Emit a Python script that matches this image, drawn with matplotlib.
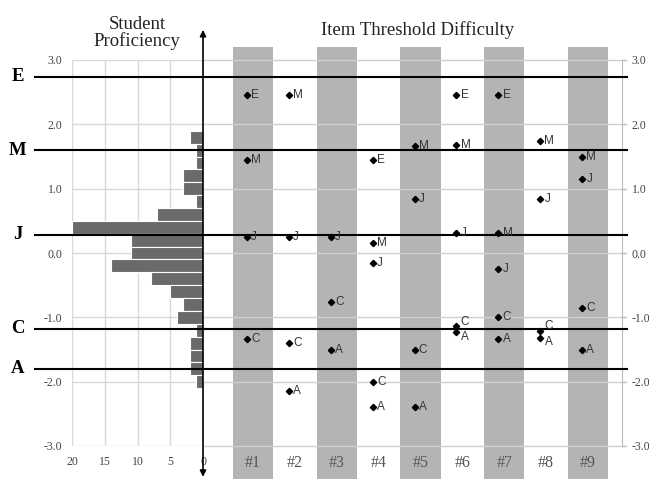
import matplotlib.pyplot as plt
import matplotlib.transforms as mtransforms
import numpy as np

# student proficiency histogram (bin centres, counts)
bin_centers = [1.8, 1.6, 1.4, 1.2, 1.0, 0.8, 0.6, 0.4, 0.2, 0.0,
               -0.2, -0.4, -0.6, -0.8, -1.0, -1.2, -1.4, -1.6, -1.8, -2.0]
counts = [2, 1, 1, 3, 3, 1, 7, 20, 11, 11, 14, 8, 5, 3, 4, 1, 2, 2, 2, 1]

# cut scores
cut_labels = ['E', 'M', 'J', 'C', 'A']
cut_values = [2.74, 1.60, 0.28, -1.18, -1.80]

# item threshold difficulties, items #1..#9 (nan = no threshold)
items = ['#1', '#2', '#3', '#4', '#5', '#6', '#7', '#8', '#9']
nan = np.nan
thr_E = [2.45, nan, nan, 1.45, nan, 2.45, 2.45, nan, nan]
thr_M = [1.45, 2.45, nan, 0.16, 1.66, 1.68, 0.31, 1.74, 1.49]
thr_J = [0.25, 0.25, 0.25, -0.16, 0.84, 0.31, -0.25, 0.84, 1.15]
thr_C = [-1.34, -1.40, -0.76, -2.01, -1.51, -1.14, -1.00, -1.21, -0.85]
thr_A = [nan, -2.15, -1.51, -2.40, -2.40, -1.23, -1.34, -1.32, -1.51]
thresholds = {'E': thr_E, 'M': thr_M, 'J': thr_J, 'C': thr_C, 'A': thr_A}

serif = 'Liberation Serif'
sans = 'Liberation Sans'

fig = plt.figure(figsize=(6.49, 4.79), dpi=100)
W, H = 649, 479
bot = 1 - 446 / H
hgt = 386 / H
ax_h = fig.add_axes([72 / W, bot, 131 / W, hgt])
ax_r = fig.add_axes([203 / W, bot, 419 / W, hgt])

# ---- histogram panel ----
ax_h.barh(bin_centers, counts, height=0.2, color='#6a6a6a',
          edgecolor='white', linewidth=0.8, zorder=2)
ax_h.set_xlim(20, 0)
ax_h.set_ylim(-3, 3)
ax_h.set_xticks([20, 15, 10, 5, 0])
ax_h.set_yticks([-3, -2, -1, 0, 1, 2, 3])
ax_h.set_yticklabels(['-3.0', '-2.0', '-1.0', '0.0', '1.0', '2.0', '3.0'])
ax_h.grid(True, color='#d9d9d9', linewidth=1, zorder=0)
ax_h.set_axisbelow(True)
for s in ax_h.spines.values():
    s.set_visible(False)
ax_h.tick_params(length=0, labelsize=8.5, labelcolor='#444444', pad=7)
for lab in ax_h.get_xticklabels() + ax_h.get_yticklabels():
    lab.set_family(serif)

# ---- item panel ----
xpos = np.arange(1, len(items) + 1)
ax_r.set_xlim(-0.19, 9.81)
ax_r.set_ylim(-3, 3)
lab_tr = mtransforms.offset_copy(ax_r.transData, fig=fig, y=-9, units='dots')
for i, x in enumerate(xpos):
    if i % 2 == 0:
        ax_r.axvspan(x - 0.48, x + 0.48, ymin=-0.085, ymax=1.034,
                     color='#b4b4b4', clip_on=False, zorder=0, lw=0)
    ax_r.text(x, -3.0, items[i], transform=lab_tr, ha='center', va='top',
              fontsize=11.5, family=serif, color='#555555')

for yv in range(-3, 4):
    ax_r.axhline(yv, xmin=0, xmax=1.01, color='#d0d0d0', lw=1, zorder=1,
                 clip_on=False)

ax_r.set_xticks([])
ax_r.yaxis.tick_right()
ax_r.set_yticks([-3, -2, -1, 0, 1, 2, 3])
ax_r.set_yticklabels(['-3.0', '-2.0', '-1.0', '0.0', '1.0', '2.0', '3.0'])
ax_r.tick_params(axis='y', length=3, color='#bbbbbb', labelsize=8.5,
                 labelcolor='#444444', pad=4)
for lab in ax_r.get_yticklabels():
    lab.set_family(serif)
for k, s in ax_r.spines.items():
    s.set_visible(k == 'right')
ax_r.spines['right'].set_color('#bbbbbb')

# threshold points and labels
dx = -0.14
for letter, vals in thresholds.items():
    vals = np.array(vals, dtype=float)
    ax_r.plot(xpos + dx, vals, 'D', ms=3.2, color='black', ls='none',
              zorder=4)
for i, x in enumerate(xpos):
    col = [(thresholds[l][i], l) for l in thresholds if not np.isnan(thresholds[l][i])]
    col.sort(reverse=True)
    for j, (v, l) in enumerate(col):
        off = 0
        if j > 0 and col[j - 1][0] - v < 0.15:
            off = -0.07
        if j < len(col) - 1 and v - col[j + 1][0] < 0.15:
            off = 0.07
        ax_r.text(x + dx + 0.1, v + off, l, ha='left', va='center',
                  fontsize=8.5, family=sans, color='#333333', zorder=5)

# cut score lines across both panels
blend = mtransforms.blended_transform_factory(ax_r.transAxes, ax_r.transData)
for l, v in zip(cut_labels, cut_values):
    ax_r.plot([-0.401, 1.012], [v, v], transform=blend, color='black',
              lw=1.5, clip_on=False, zorder=3)
    ax_r.text(-0.4415, v, l, transform=blend, ha='center', va='center',
              fontsize=13.5, fontweight='bold', family=serif)

# central vertical arrow
ax_r.annotate('', xy=(0, 1.078), xytext=(0, -0.08), xycoords='axes fraction',
              textcoords='axes fraction',
              arrowprops=dict(arrowstyle='<|-|>', color='black', lw=1.2,
                              mutation_scale=9, shrinkA=0, shrinkB=0),
              annotation_clip=False, zorder=6)

# panel titles
fig.text(137 / W, 1 - 33 / H, 'Student\nProficiency', ha='center',
         va='center', fontsize=13.5, family=serif, color='#222222',
         linespacing=1.0)
fig.text(418 / W, 1 - 30 / H, 'Item Threshold Difficulty', ha='center',
         va='center', fontsize=13.5, family=serif, color='#222222')

fig.savefig('out.png', dpi=100)
